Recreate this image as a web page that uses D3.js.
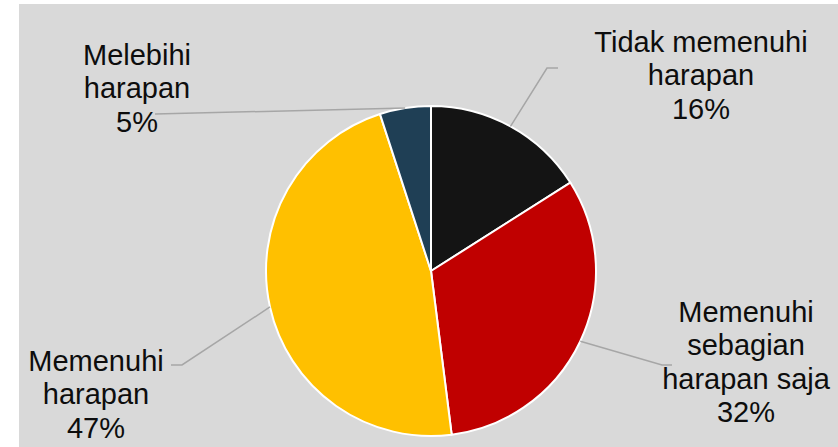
<!DOCTYPE html>
<html>
<head>
<meta charset="utf-8">
<script src="https://cdn.jsdelivr.net/npm/d3@7"></script>
<style>
  html, body { margin: 0; padding: 0; background: #ffffff; }
  svg { display: block; }
  text { font-family: "Liberation Sans", Arial, sans-serif; }
</style>
</head>
<body>
<svg id="chart" width="838" height="447"></svg>
<script>
// Survey result: share of respondents per expectation category
const categories = [
  ["Tidak memenuhi", "harapan"],
  ["Memenuhi", "sebagian", "harapan saja"],
  ["Memenuhi", "harapan"],
  ["Melebihi", "harapan"]
];
const values = [16, 32, 47, 5];
const colors = ["#141414", "#c00000", "#ffc000", "#1f3f55"];

// Label placement: text centre x, first baseline y, leader elbow and end
const labelLayout = [
  { x: 701, y: 52,  elbow: [547, 68],  end: [558, 68] },
  { x: 746, y: 322, elbow: [662, 365], end: [672, 365] },
  { x: 96,  y: 371, elbow: [182, 365], end: [171, 365] },
  { x: 137, y: 65,  elbow: [155, 114], end: [155, 114] }
];

const W = 838, H = 447;
const cx = 431, cy = 271, radius = 165;
const lineHeight = 33.3;

const svg = d3.select("#chart");

// chart area background
svg.append("rect")
  .attr("x", 19).attr("y", 4)
  .attr("width", W - 19).attr("height", H - 4)
  .attr("fill", "#d9d9d9");

const total = d3.sum(values);
const pie = d3.pie().sort(null).value(d => d)(values);
const arc = d3.arc().innerRadius(0).outerRadius(radius);

const g = svg.append("g").attr("transform", `translate(${cx},${cy})`);

g.selectAll("path.slice")
  .data(pie)
  .join("path")
  .attr("class", "slice")
  .attr("d", arc)
  .attr("fill", (d, i) => colors[i])
  .attr("stroke", "#ffffff")
  .attr("stroke-width", 2)
  .attr("stroke-linejoin", "round");

// leader lines from the slice edge at its mid-angle to the label
const edgePoint = d => {
  const a = (d.startAngle + d.endAngle) / 2;
  return [cx + radius * Math.sin(a), cy - radius * Math.cos(a)];
};

svg.selectAll("polyline.leader")
  .data(pie)
  .join("polyline")
  .attr("class", "leader")
  .attr("points", (d, i) => {
    const p = edgePoint(d);
    const L = labelLayout[i];
    return [p, L.elbow, L.end].map(q => q.join(",")).join(" ");
  })
  .attr("fill", "none")
  .attr("stroke", "#a6a6a6")
  .attr("stroke-width", 1.5);

// data labels: category lines followed by percentage
const labels = svg.selectAll("text.label")
  .data(pie)
  .join("text")
  .attr("class", "label")
  .attr("text-anchor", "middle")
  .attr("font-size", 29)
  .attr("fill", "#0d0d0d");

labels.each(function(d, i) {
  const L = labelLayout[i];
  const lines = categories[i].concat([Math.round(d.data / total * 100) + "%"]);
  d3.select(this).selectAll("tspan")
    .data(lines)
    .join("tspan")
    .attr("x", L.x)
    .attr("y", (t, j) => L.y + j * lineHeight)
    .text(t => t);
});
</script>
</body>
</html>
